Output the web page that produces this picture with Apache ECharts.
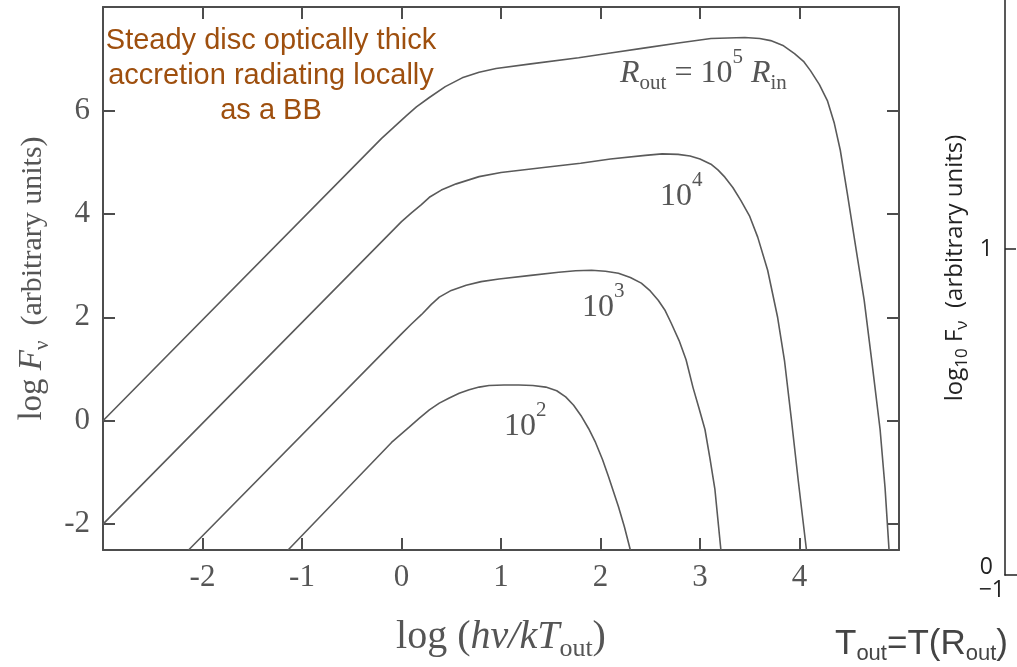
<!DOCTYPE html>
<html>
<head>
<meta charset="utf-8">
<script src="https://cdn.jsdelivr.net/npm/echarts@6/dist/echarts.min.js"></script>
<style>
  html, body { margin: 0; padding: 0; background: #fff; }
  #main { width: 1017px; height: 667px; }
</style>
</head>
<body>
<div id="main"></div>
<script>
// curves: [log(hv/kT_out), log F_v]
const rout1e5 = [[-3, 0.0], [-0.2, 5.46], [0.05, 5.9], [0.15, 6.07], [0.28, 6.25], [0.44, 6.46], [0.61, 6.63],
  [0.78, 6.74], [0.95, 6.81], [1.3, 6.9], [1.78, 7.02], [2.1, 7.11], [2.45, 7.21], [2.8, 7.31], [3.11, 7.39],
  [3.45, 7.41], [3.6, 7.39], [3.71, 7.35], [3.84, 7.25], [3.95, 7.1], [4.04, 6.95], [4.11, 6.77], [4.2, 6.5],
  [4.28, 6.19], [4.35, 5.75], [4.41, 5.23], [4.48, 4.4], [4.57, 3.3], [4.65, 2.33], [4.73, 1.1], [4.81, -0.17],
  [4.86, -1.3], [4.9, -2.5]];
const rout1e4 = [[-3, -2.0], [0.0, 3.85], [0.1, 4.02], [0.2, 4.18], [0.28, 4.32], [0.4, 4.46], [0.55, 4.58],
  [0.78, 4.72], [1.0, 4.8], [1.45, 4.9], [1.8, 4.98], [2.1, 5.06], [2.45, 5.13], [2.62, 5.16], [2.78, 5.15],
  [2.9, 5.12], [3.0, 5.06], [3.11, 4.96], [3.18, 4.85], [3.25, 4.71], [3.33, 4.51], [3.41, 4.26], [3.5, 3.95],
  [3.58, 3.55], [3.68, 2.91], [3.78, 2.0], [3.85, 1.15], [3.92, 0.0], [3.99, -1.2], [4.07, -2.5]];
const rout1e3 = [[-2.14, -2.5], [0.0, 1.68], [0.1, 1.87], [0.2, 2.05], [0.3, 2.25], [0.38, 2.39], [0.5, 2.52],
  [0.65, 2.62], [0.8, 2.69], [0.98, 2.74], [1.3, 2.81], [1.58, 2.87], [1.75, 2.9], [1.91, 2.91], [2.05, 2.89],
  [2.18, 2.85], [2.3, 2.77], [2.41, 2.66], [2.5, 2.51], [2.58, 2.33], [2.65, 2.13], [2.71, 1.89], [2.79, 1.55],
  [2.86, 1.18], [2.93, 0.64], [2.99, 0.24], [3.05, -0.17], [3.1, -0.73], [3.15, -1.33], [3.21, -2.5]];
const rout1e2 = [[-1.14, -2.5], [-0.1, -0.42], [0.08, -0.12], [0.18, 0.05], [0.28, 0.21], [0.38, 0.34],
  [0.48, 0.44], [0.58, 0.53], [0.68, 0.6], [0.78, 0.65], [0.88, 0.68], [1.03, 0.69], [1.18, 0.69], [1.32, 0.68],
  [1.45, 0.65], [1.56, 0.58], [1.65, 0.46], [1.73, 0.3], [1.81, 0.08], [1.88, -0.15], [1.95, -0.42],
  [2.02, -0.75], [2.08, -1.08], [2.18, -1.66], [2.24, -2.05], [2.3, -2.5]];

const xTicks = [-2, -1, 0, 1, 2, 3, 4];
const yTicks = [-2, 0, 2, 4, 6];
// the cut-off panel on the right
const sideYTicks = [1];
const sideYLabels = [0, 1];
const sideXLabels = [-1];

const serif = "'Liberation Serif', 'Times New Roman', serif";
const sans = "'Liberation Sans', Arial, sans-serif";
const side = "'Open Sans', sans-serif";
const frame = '#4d4d4d';
const ink = '#555';

// rich styles for sub/superscripts (padding moves the glyphs up or down)
// color is for axis names, fill for graphic texts
const mathRich = (size) => ({
  n: { fontFamily: serif, fontSize: size, color: ink, fill: ink },
  i: { fontFamily: serif, fontSize: size, fontStyle: 'italic', color: ink, fill: ink },
  sb: { fontFamily: serif, fontSize: Math.round(size * 0.65), color: ink, fill: ink, padding: [Math.round(size * 0.6), 0, 0, 0] },
  sp: { fontFamily: serif, fontSize: Math.round(size * 0.65), color: ink, fill: ink, padding: [0, 0, Math.round(size * 1.05), 0] },
});

const chart = echarts.init(document.getElementById('main'));

const curve = (name, data) => ({
  name: name,
  type: 'line',
  xAxisIndex: 0,
  yAxisIndex: 0,
  data: data,
  showSymbol: false,
  lineStyle: { color: '#5a5a5a', width: 1.6 },
  silent: true,
});

const frameAxis = (extra) => Object.assign({
  type: 'value',
  axisLine: { onZero: false, lineStyle: { color: frame, width: 2 } },
  splitLine: { show: false },
}, extra);

const option = {
  animation: false,
  backgroundColor: '#fff',
  grid: [
    { left: 103, right: 118, top: 7, bottom: 116 },
    { left: 1005, right: -300, top: 0, bottom: 92 },
  ],
  xAxis: [
    frameAxis({
      gridIndex: 0, min: -3, max: 5, position: 'bottom',
      axisTick: { inside: true, length: 12, customValues: xTicks, lineStyle: { color: frame, width: 2 } },
      axisLabel: { customValues: xTicks, margin: 12, fontFamily: serif, fontSize: 31, color: ink },
      name: '{n|log (}{i|hν/kT}{sb|out}{n|)}',
      nameLocation: 'middle', nameGap: 62,
      nameTextStyle: { rich: mathRich(40) },
    }),
    frameAxis({
      gridIndex: 0, min: -3, max: 5, position: 'top',
      axisTick: { inside: true, length: 12, customValues: xTicks, lineStyle: { color: frame, width: 2 } },
      axisLabel: { show: false },
    }),
    {
      gridIndex: 1, type: 'value', min: -1, max: 5,
      axisLine: { onZero: false, lineStyle: { color: '#222', width: 1.5 } },
      axisTick: { show: false },
      axisLabel: {
        customValues: sideXLabels, align: 'right', margin: 4,
        fontFamily: side, fontSize: 23, color: '#222',
        formatter: (v) => String(v).replace('-', '−'),
      },
      splitLine: { show: false },
    },
  ],
  yAxis: [
    frameAxis({
      gridIndex: 0, min: -2.5, max: 8, position: 'left',
      axisTick: { inside: true, length: 12, customValues: yTicks, lineStyle: { color: frame, width: 2 } },
      axisLabel: { customValues: yTicks, margin: 13, fontFamily: serif, fontSize: 31, color: ink },
      name: '{n|log }{i|F}{sb|ν}{u|  (arbitrary units)}',
      nameLocation: 'middle', nameGap: 46,
      nameTextStyle: { rich: Object.assign(mathRich(33), { u: { fontFamily: serif, fontSize: 30, color: ink } }) },
    }),
    frameAxis({
      gridIndex: 0, min: -2.5, max: 8, position: 'right',
      axisTick: { inside: true, length: 12, customValues: yTicks, lineStyle: { color: frame, width: 2 } },
      axisLabel: { show: false },
    }),
    {
      gridIndex: 1, type: 'value', min: 0, max: 1.764,
      axisLine: { show: true, onZero: false, lineStyle: { color: '#222', width: 1.5 } },
      axisTick: { show: true, inside: true, length: 11, customValues: sideYTicks, lineStyle: { color: '#222', width: 1.5 } },
      axisLabel: {
        customValues: sideYLabels, margin: 12,
        fontFamily: side, fontSize: 23, color: '#222',
        formatter: (v) => (v === 0 ? '{z|0}' : '{o|' + v + '}'),
        rich: {
          z: { fontFamily: side, fontSize: 23, color: '#222', padding: [0, 0, 16, 0] },
          o: { fontFamily: side, fontSize: 23, color: '#222' },
        },
      },
      splitLine: { show: false },
    },
  ],
  series: [
    curve('1e5', rout1e5),
    curve('1e4', rout1e4),
    curve('1e3', rout1e3),
    curve('1e2', rout1e2),
  ],
  graphic: [
    {
      type: 'text', x: 271, y: 23, silent: true,
      style: {
        text: 'Steady disc optically thick\naccretion radiating locally\nas a BB',
        fill: '#9E4F0E', fontFamily: sans, fontSize: 29, lineHeight: 35,
        align: 'center', textAlign: 'center', verticalAlign: 'top', textVerticalAlign: 'top',
      },
    },
    {
      type: 'text', x: 620, y: 74, silent: true,
      style: {
        text: '{i|R}{sb|out}{n| = 10}{sp|5}{n| }{i|R}{sb|in}',
        rich: mathRich(32), align: 'left', verticalAlign: 'middle',
      },
    },
    {
      type: 'text', x: 660, y: 197, silent: true,
      style: { text: '{n|10}{sp|4}', rich: mathRich(32), align: 'left', verticalAlign: 'middle' },
    },
    {
      type: 'text', x: 582, y: 308, silent: true,
      style: { text: '{n|10}{sp|3}', rich: mathRich(32), align: 'left', verticalAlign: 'middle' },
    },
    {
      type: 'text', x: 504, y: 427, silent: true,
      style: { text: '{n|10}{sp|2}', rich: mathRich(32), align: 'left', verticalAlign: 'middle' },
    },
    {
      type: 'text', x: 955, y: 268, rotation: Math.PI / 2, silent: true,
      style: {
        text: '{a|log}{b|10}{a| F}{b|ν}{a|  (arbitrary units)}',
        align: 'center', verticalAlign: 'middle',
        rich: {
          a: { fontFamily: side, fontSize: 24, fill: '#222' },
          b: { fontFamily: side, fontSize: 17, fill: '#222', padding: [14, 0, 0, 0] },
        },
      },
    },
    {
      type: 'text', x: 835, y: 644, silent: true,
      style: {
        text: '{a|T}{b|out}{a|=T(R}{b|out}{a|)}',
        align: 'left', verticalAlign: 'middle',
        rich: {
          a: { fontFamily: sans, fontSize: 35, fill: '#444' },
          b: { fontFamily: sans, fontSize: 22, fill: '#444', padding: [20, 0, 0, 0] },
        },
      },
    },
  ],
};

chart.setOption(option);
</script>
</body>
</html>
